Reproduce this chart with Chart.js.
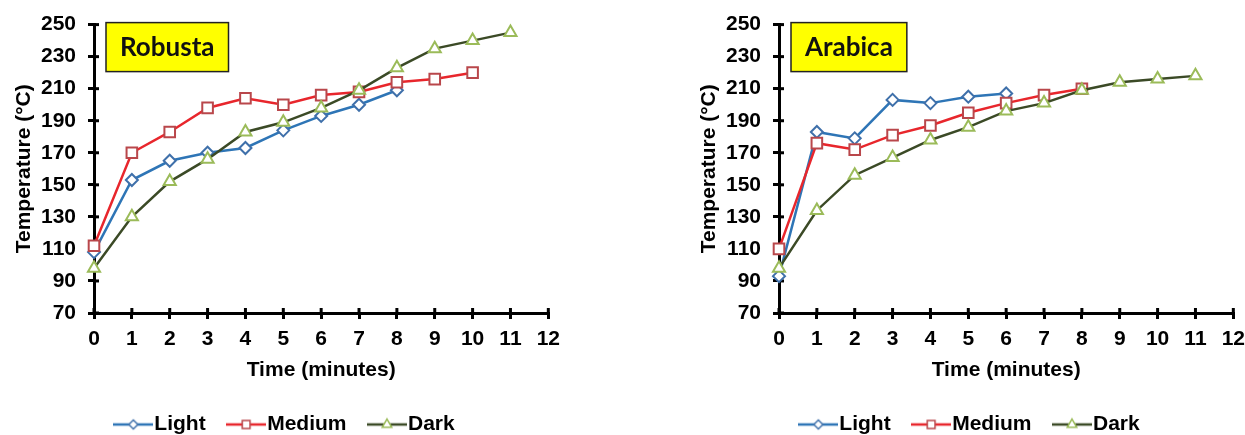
<!DOCTYPE html>
<html>
<head>
<meta charset="utf-8">
<script src="https://cdn.jsdelivr.net/npm/chart.js@4.4.1/dist/chart.umd.min.js"></script>
<style>
  html, body { margin: 0; padding: 0; background: #fff; }
  body { width: 1245px; height: 435px; position: relative; overflow: hidden; }
  .panel { position: absolute; top: 0; width: 568px; height: 435px; }
  #left { left: 0; }
  #right { left: 685px; }
</style>
</head>
<body>
<div class="panel" id="left"><canvas id="robustaChart"></canvas></div>
<div class="panel" id="right"><canvas id="arabicaChart"></canvas></div>
<script>
// Thời gian rang (phút)
var minutes = [0, 1, 2, 3, 4, 5, 6, 7, 8, 9, 10, 11];

// Nhiệt độ (°C) - Robusta
var robustaLight  = [108, 153, 165, 170, 173, 184, 193, 200, 209];
var robustaMedium = [112, 170, 183, 198, 204, 200, 206, 208, 214, 216, 220];
var robustaDark   = [98, 130, 152, 166, 183, 189, 198, 209, 223, 235, 240, 245];

// Nhiệt độ (°C) - Arabica
var arabicaLight  = [93, 183, 179, 203, 201, 205, 207];
var arabicaMedium = [110, 176, 172, 181, 187, 195, 201, 206, 210];
var arabicaDark   = [98, 134, 156, 167, 178, 186, 196, 201, 209, 214, 216, 218];

var seriesNames = ['Light', 'Medium', 'Dark'];

// Kiểu đường / điểm
var lineColors   = ['#2e75b6', '#e8262c', '#3b4a26'];
var markerColors = ['#3f70aa', '#b9474b', '#9bbb59'];
var markerStyles = ['rectRot', 'rect', 'triangle'];
var markerSizes  = [6, 7.5, 7];

Chart.defaults.font.family = "'Liberation Sans', Arial, sans-serif";
Chart.defaults.font.weight = 'bold';
Chart.defaults.font.size = 21;
Chart.defaults.color = '#000';

// Vẽ biểu tượng chú thích: đường + điểm
function drawMarker(ctx, style, x, y, r) {
    ctx.beginPath();
    if (style === 'rectRot') {
        ctx.moveTo(x - r, y); ctx.lineTo(x, y - r); ctx.lineTo(x + r, y); ctx.lineTo(x, y + r);
    } else if (style === 'rect') {
        var s = r * Math.SQRT1_2;
        ctx.rect(x - s, y - s, 2 * s, 2 * s);
    } else {
        ctx.moveTo(x, y - r);
        ctx.lineTo(x + r * Math.sin(2 * Math.PI / 3), y - r * Math.cos(2 * Math.PI / 3));
        ctx.lineTo(x + r * Math.sin(4 * Math.PI / 3), y - r * Math.cos(4 * Math.PI / 3));
    }
    ctx.closePath();
    ctx.fill();
    ctx.stroke();
}

var legendIcons = seriesNames.map(function (name, i) {
    var c = document.createElement('canvas');
    c.width = 40; c.height = 16;
    var g = c.getContext('2d');
    g.strokeStyle = lineColors[i];
    g.lineWidth = 2.5;
    g.beginPath(); g.moveTo(0, 8); g.lineTo(40, 8); g.stroke();
    g.fillStyle = '#fff';
    g.strokeStyle = markerColors[i];
    g.lineWidth = 1.5;
    drawMarker(g, markerStyles[i], 20, 8, i === 0 ? 4.5 : 5.5);
    return c;
});

// Vạch chia cắt ngang trục (cả trong lẫn ngoài)
var crossTicks = {
    id: 'crossTicks',
    beforeDatasetsDraw: function (chart) {
        var ctx = chart.ctx, a = chart.chartArea;
        var xs = chart.scales.x, ys = chart.scales.y;
        ctx.save();
        ctx.strokeStyle = '#000';
        ctx.lineWidth = 3;
        xs.ticks.forEach(function (t, i) {
            var px = xs.getPixelForTick(i);
            ctx.beginPath(); ctx.moveTo(px, a.bottom); ctx.lineTo(px, a.bottom - 5); ctx.stroke();
        });
        ys.ticks.forEach(function (t, i) {
            var py = ys.getPixelForTick(i);
            ctx.beginPath(); ctx.moveTo(a.left, py); ctx.lineTo(a.left + 5, py); ctx.stroke();
        });
        ctx.restore();
    }
};

// Dời chú thích sang phải một chút
var legendShift = {
    id: 'legendShift',
    afterLayout: function (chart) {
        chart.legend.left += 8;
        chart.legend.right += 8;
    }
};

// Hộp tên giống cà phê (nền vàng)
var labelBox = {
    id: 'labelBox',
    afterDraw: function (chart, args, opts) {
        var ctx = chart.ctx, a = chart.chartArea;
        ctx.save();
        ctx.font = 'bold 26px Lato, sans-serif';
        var w = ctx.measureText(opts.text).width + 28;
        var x = a.left + 12, y = a.top - 2, h = 49;
        ctx.fillStyle = '#ffff00';
        ctx.fillRect(x, y, w, h);
        ctx.strokeStyle = '#222';
        ctx.lineWidth = 1.5;
        ctx.strokeRect(x, y, w, h);
        ctx.fillStyle = '#111';
        ctx.textBaseline = 'middle';
        ctx.fillText(opts.text, x + 14, y + h / 2 + 1);
        ctx.restore();
    }
};

function toPoints(values) {
    return values.map(function (v, i) { return { x: minutes[i], y: v }; });
}

function makeChart(id, title, light, medium, dark) {
    var ctx = document.getElementById(id).getContext('2d');
    var series = [light, medium, dark];
    return new Chart(ctx, {
        type: 'line',
        data: {
            datasets: series.map(function (vals, i) {
                return {
                    label: seriesNames[i],
                    data: toPoints(vals),
                    borderColor: lineColors[i],
                    borderWidth: 2.5,
                    backgroundColor: '#fff',
                    pointStyle: markerStyles[i],
                    pointRadius: markerSizes[i],
                    pointBorderColor: markerColors[i],
                    pointBackgroundColor: '#fff',
                    pointBorderWidth: 2,
                    tension: 0,
                    fill: false,
                    clip: false,
                    order: 3 - i
                };
            })
        },
        options: {
            responsive: true,
            maintainAspectRatio: false,
            animation: false,
            devicePixelRatio: 1,
            layout: { padding: { top: 22, right: 6.5, left: 0, bottom: -10 } },
            scales: {
                x: {
                    type: 'linear',
                    min: 0,
                    max: 12,
                    ticks: { stepSize: 1, padding: 8 },
                    grid: { drawOnChartArea: false, color: '#000', lineWidth: 3, tickLength: 6 },
                    border: { color: '#000', width: 3 },
                    title: { display: true, text: 'Time (minutes)', padding: { top: 4, bottom: 1 } },
                    afterFit: function (scale) { scale.height = 71; }
                },
                y: {
                    min: 70,
                    max: 250,
                    ticks: { stepSize: 20, padding: 12 },
                    grid: { drawOnChartArea: false, color: '#000', lineWidth: 3, tickLength: 6 },
                    border: { color: '#000', width: 3 },
                    title: { display: true, text: 'Temperature (°C)', padding: { top: 12, bottom: 0 } },
                    afterFit: function (scale) { scale.width = 94; }
                }
            },
            plugins: {
                legend: {
                    position: 'bottom',
                    labels: {
                        usePointStyle: true,
                        pointStyleWidth: 21,
                        padding: 30,
                        generateLabels: function (chart) {
                            return chart.data.datasets.map(function (ds, i) {
                                return {
                                    text: ds.label,
                                    pointStyle: legendIcons[i],
                                    fillStyle: 'transparent',
                                    strokeStyle: 'transparent',
                                    lineWidth: 0,
                                    fontColor: '#000',
                                    hidden: false,
                                    datasetIndex: i
                                };
                            });
                        }
                    }
                },
                tooltip: { enabled: false },
                labelBox: { text: title }
            }
        },
        plugins: [crossTicks, labelBox, legendShift]
    });
}

makeChart('robustaChart', 'Robusta', robustaLight, robustaMedium, robustaDark);
makeChart('arabicaChart', 'Arabica', arabicaLight, arabicaMedium, arabicaDark);
</script>
</body>
</html>
